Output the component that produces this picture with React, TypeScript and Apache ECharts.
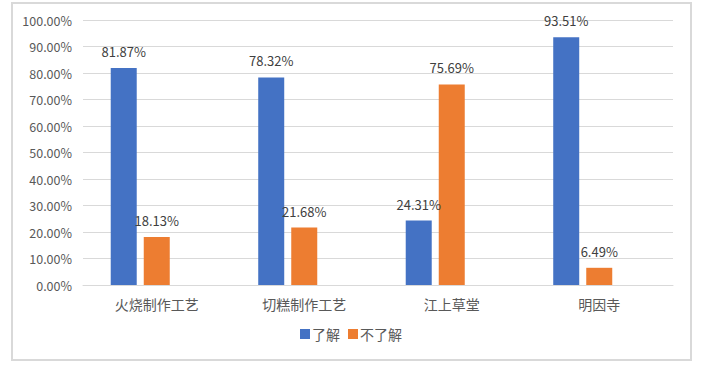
import React, { useEffect, useRef } from "react";
import * as echarts from "echarts";

const categories = ["火烧制作工艺", "切糕制作工艺", "江上草堂", "明因寺"];
const knowValues = [81.87, 78.32, 24.31, 93.51];
const notKnowValues = [18.13, 21.68, 75.69, 6.49];
const seriesNames = ["了解", "不了解"];

export default function App() {
  const ref = useRef<HTMLDivElement>(null);
  useEffect(() => {
    if (!ref.current) return;
    const chart = echarts.init(ref.current, undefined, { renderer: "svg" });
    const font = "'Noto Sans CJK SC', 'Noto Sans', sans-serif";
    const label = {
      show: true,
      position: "top" as const,
      distance: 10,
      color: "#404040",
      fontSize: 13,
      fontFamily: font,
      formatter: (p: any) => p.value.toFixed(2) + "%",
    };
    chart.setOption({
      animation: false,
      backgroundColor: "#ffffff",
      graphic: [
        {
          type: "rect",
          shape: { x: 12, y: 3, width: 679, height: 357 },
          style: { fill: "none", stroke: "#d9d9d9", lineWidth: 2 },
          silent: true,
        },
      ],
      grid: { left: 83, right: 29, top: 20, bottom: 85 },
      legend: {
        data: seriesNames,
        bottom: 24,
        left: "center",
        itemWidth: 10,
        itemHeight: 10,
        itemGap: 8,
        icon: "rect",
        textStyle: { color: "#595959", fontSize: 14, fontFamily: font, padding: [0, 0, 0, -3] },
      },
      xAxis: {
        type: "category",
        data: categories,
        axisLine: { lineStyle: { color: "#d9d9d9", width: 1 } },
        axisTick: { show: false },
        axisLabel: { color: "#595959", fontSize: 14, fontFamily: font, margin: 12 },
      },
      yAxis: {
        type: "value",
        min: 0,
        max: 100,
        interval: 10,
        axisLine: { show: false },
        axisTick: { show: false },
        splitLine: { lineStyle: { color: "#d9d9d9", width: 1 } },
        axisLabel: {
          color: "#595959",
          fontSize: 12.5,
          fontFamily: font,
          margin: 11,
          formatter: (v: number) => v.toFixed(2) + "%",
        },
      },
      series: [
        {
          name: seriesNames[0],
          type: "bar",
          data: knowValues,
          barWidth: 26,
          barGap: "27%",
          itemStyle: { color: "#4472C4" },
          label,
        },
        {
          name: seriesNames[1],
          type: "bar",
          data: notKnowValues,
          barWidth: 26,
          barGap: "27%",
          itemStyle: { color: "#ED7D31" },
          label,
        },
        {
          name: "空",
          type: "bar",
          data: [],
          barWidth: 26,
          barGap: "27%",
          itemStyle: { color: "#A5A5A5" },
        },
      ],
    });
    return () => chart.dispose();
  }, []);
  return (
    <div
      ref={ref}
      style={{ position: "fixed", left: 0, top: 0, width: 702, height: 370 }}
    />
  );
}
